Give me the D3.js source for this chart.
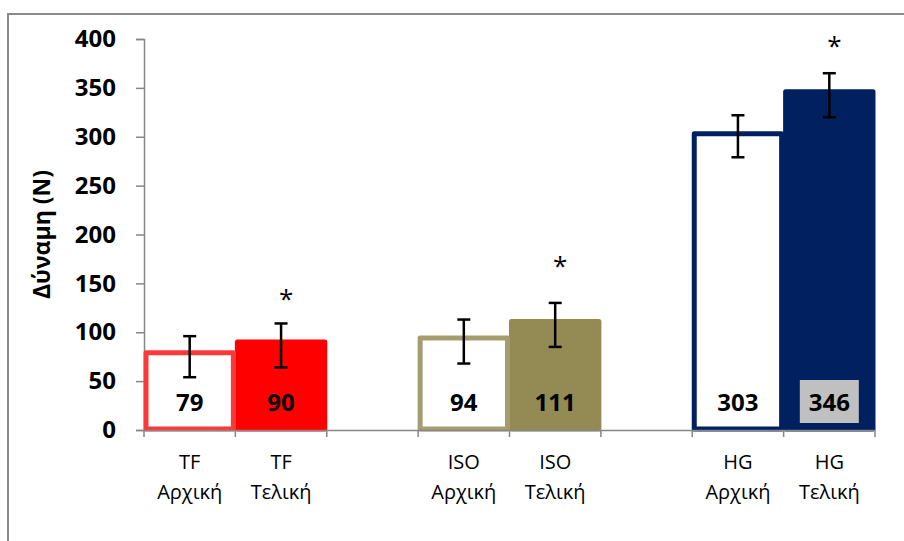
<!DOCTYPE html>
<html>
<head>
<meta charset="utf-8">
<script src="https://cdn.jsdelivr.net/npm/d3@7"></script>
<style>
  html, body { margin: 0; padding: 0; background: #fff; }
  svg { display: block; }
</style>
</head>
<body>
<svg id="chart" width="904" height="541"></svg>
<script>
// Eight slots on the x axis; slots 2 and 5 are empty spacers between groups
const groupLabels = ["TF", "TF", "", "ISO", "ISO", "", "HG", "HG"];
const phaseLabels = ["Αρχική", "Τελική", "", "Αρχική", "Τελική", "", "Αρχική", "Τελική"];
const forceValues = [79, 90, null, 94, 111, null, 303, 346];
const errorUpper = [96, 109, null, 113, 130, null, 322, 365];
const errorLower = [54, 64, null, 68, 85, null, 279, 320];
// Level (in N) at which the significance asterisk sits
const significanceLevel = [null, 140, null, null, 174, null, null, 399];
const barColors = ["#fa3a3a", "#ff0000", null, "#a69d6f", "#948a54", null, "#002060", "#002060"];
const barFilled = [false, true, null, false, true, null, false, true];
const yTicks = [0, 50, 100, 150, 200, 250, 300, 350, 400];

const svg = d3.select("#chart");
const font = "'Open Sans', 'DejaVu Sans', sans-serif";
const axisColor = "#868686";

// Outer chart frame
svg.append("rect")
  .attr("x", 8).attr("y", 14)
  .attr("width", 910).attr("height", 540)
  .attr("fill", "none").attr("stroke", "#8a8a8a").attr("stroke-width", 2);

const x = d3.scaleBand().domain(d3.range(groupLabels.length)).range([144, 875]).padding(0);
const y = d3.scaleLinear().domain([0, 400]).range([430, 39]);

// Y axis
const yAxis = svg.append("g").attr("transform", "translate(144,0)")
  .call(d3.axisLeft(y).tickValues(yTicks).tickSize(8).tickPadding(20));
yAxis.select(".domain").attr("stroke", axisColor).attr("stroke-width", 1.5);
yAxis.selectAll(".tick line").attr("stroke", axisColor).attr("stroke-width", 1.5);
yAxis.selectAll(".tick text")
  .attr("font-family", font).attr("font-weight", "bold").attr("font-size", 24)
  .attr("fill", "#000");

// Bars (filled ones first so the outlined neighbours sit against them)
const idx = d3.range(forceValues.length).filter(i => forceValues[i] !== null);
const order = idx.slice().sort((a, b) => (barFilled[b] ? 1 : 0) - (barFilled[a] ? 1 : 0));
const sw = 5;
svg.append("g").selectAll("rect").data(order).join("rect")
  .attr("x", i => x(i) + 2)
  .attr("y", i => y(forceValues[i]))
  .attr("width", x.bandwidth() - 4)
  .attr("height", i => y(0) - y(forceValues[i]) - 1)
  .attr("fill", i => barFilled[i] ? barColors[i] : "#fff")
  .attr("stroke", i => barColors[i])
  .attr("stroke-width", sw)
  .attr("stroke-linejoin", "round");

// X axis line and category boundary ticks
const xAxis = svg.append("g").attr("transform", "translate(0,430)")
  .call(d3.axisBottom(x).tickSize(0).tickFormat(""));
xAxis.select(".domain").attr("stroke", axisColor).attr("stroke-width", 1.5);
const boundaries = d3.range(groupLabels.length + 1).map(i => 144 + i * x.step());
svg.append("g").selectAll("line").data(boundaries).join("line")
  .attr("x1", d => d).attr("x2", d => d)
  .attr("y1", 430).attr("y2", 437)
  .attr("stroke", axisColor).attr("stroke-width", 1.5);

// Category labels (two lines)
const labels = svg.append("g").attr("font-family", font).attr("font-size", 20)
  .attr("text-anchor", "middle").attr("fill", "#000");
labels.selectAll("text.g").data(idx).join("text").attr("class", "g")
  .attr("x", i => x(i) + x.bandwidth() / 2).attr("y", 469)
  .text(i => groupLabels[i]);
labels.selectAll("text.p").data(idx).join("text").attr("class", "p")
  .attr("x", i => x(i) + x.bandwidth() / 2).attr("y", 499)
  .text(i => phaseLabels[i]);

// Error bars
const eb = svg.append("g").attr("stroke", "#000").attr("stroke-width", 2.5);
idx.forEach(i => {
  const cx = x(i) + x.bandwidth() / 2;
  eb.append("line").attr("x1", cx).attr("x2", cx)
    .attr("y1", y(errorUpper[i])).attr("y2", y(errorLower[i]));
  [errorUpper[i], errorLower[i]].forEach(v => {
    eb.append("line").attr("x1", cx - 6.5).attr("x2", cx + 6.5)
      .attr("y1", y(v)).attr("y2", y(v));
  });
});

// Value labels at the base of each bar; the last one on a grey box
const valueG = svg.append("g");
idx.forEach(i => {
  const cx = x(i) + x.bandwidth() / 2;
  if (i === forceValues.length - 1) {
    valueG.append("rect").attr("x", cx - 29.5).attr("y", 380)
      .attr("width", 59).attr("height", 43).attr("fill", "#c0c0c0");
  }
  valueG.append("text")
    .attr("x", cx).attr("y", 411)
    .attr("text-anchor", "middle")
    .attr("font-family", font).attr("font-weight", "bold").attr("font-size", 24)
    .attr("fill", "#000")
    .text(forceValues[i]);
});

// Significance asterisks
svg.append("g").selectAll("text").data(idx.filter(i => significanceLevel[i] !== null)).join("text")
  .attr("x", i => x(i) + x.bandwidth() / 2 + 5)
  .attr("y", i => y(significanceLevel[i]) + 15)
  .attr("text-anchor", "middle")
  .attr("font-family", font).attr("font-size", 26).attr("fill", "#000")
  .text("*");

// Y axis title, centred on the plot height
svg.append("text")
  .attr("transform", `translate(50,${(y(0) + y(400)) / 2}) rotate(-90)`)
  .attr("text-anchor", "middle")
  .attr("font-family", font).attr("font-weight", "bold").attr("font-size", 23)
  .attr("fill", "#000")
  .text("Δύναμη (N)");
</script>
</body>
</html>
